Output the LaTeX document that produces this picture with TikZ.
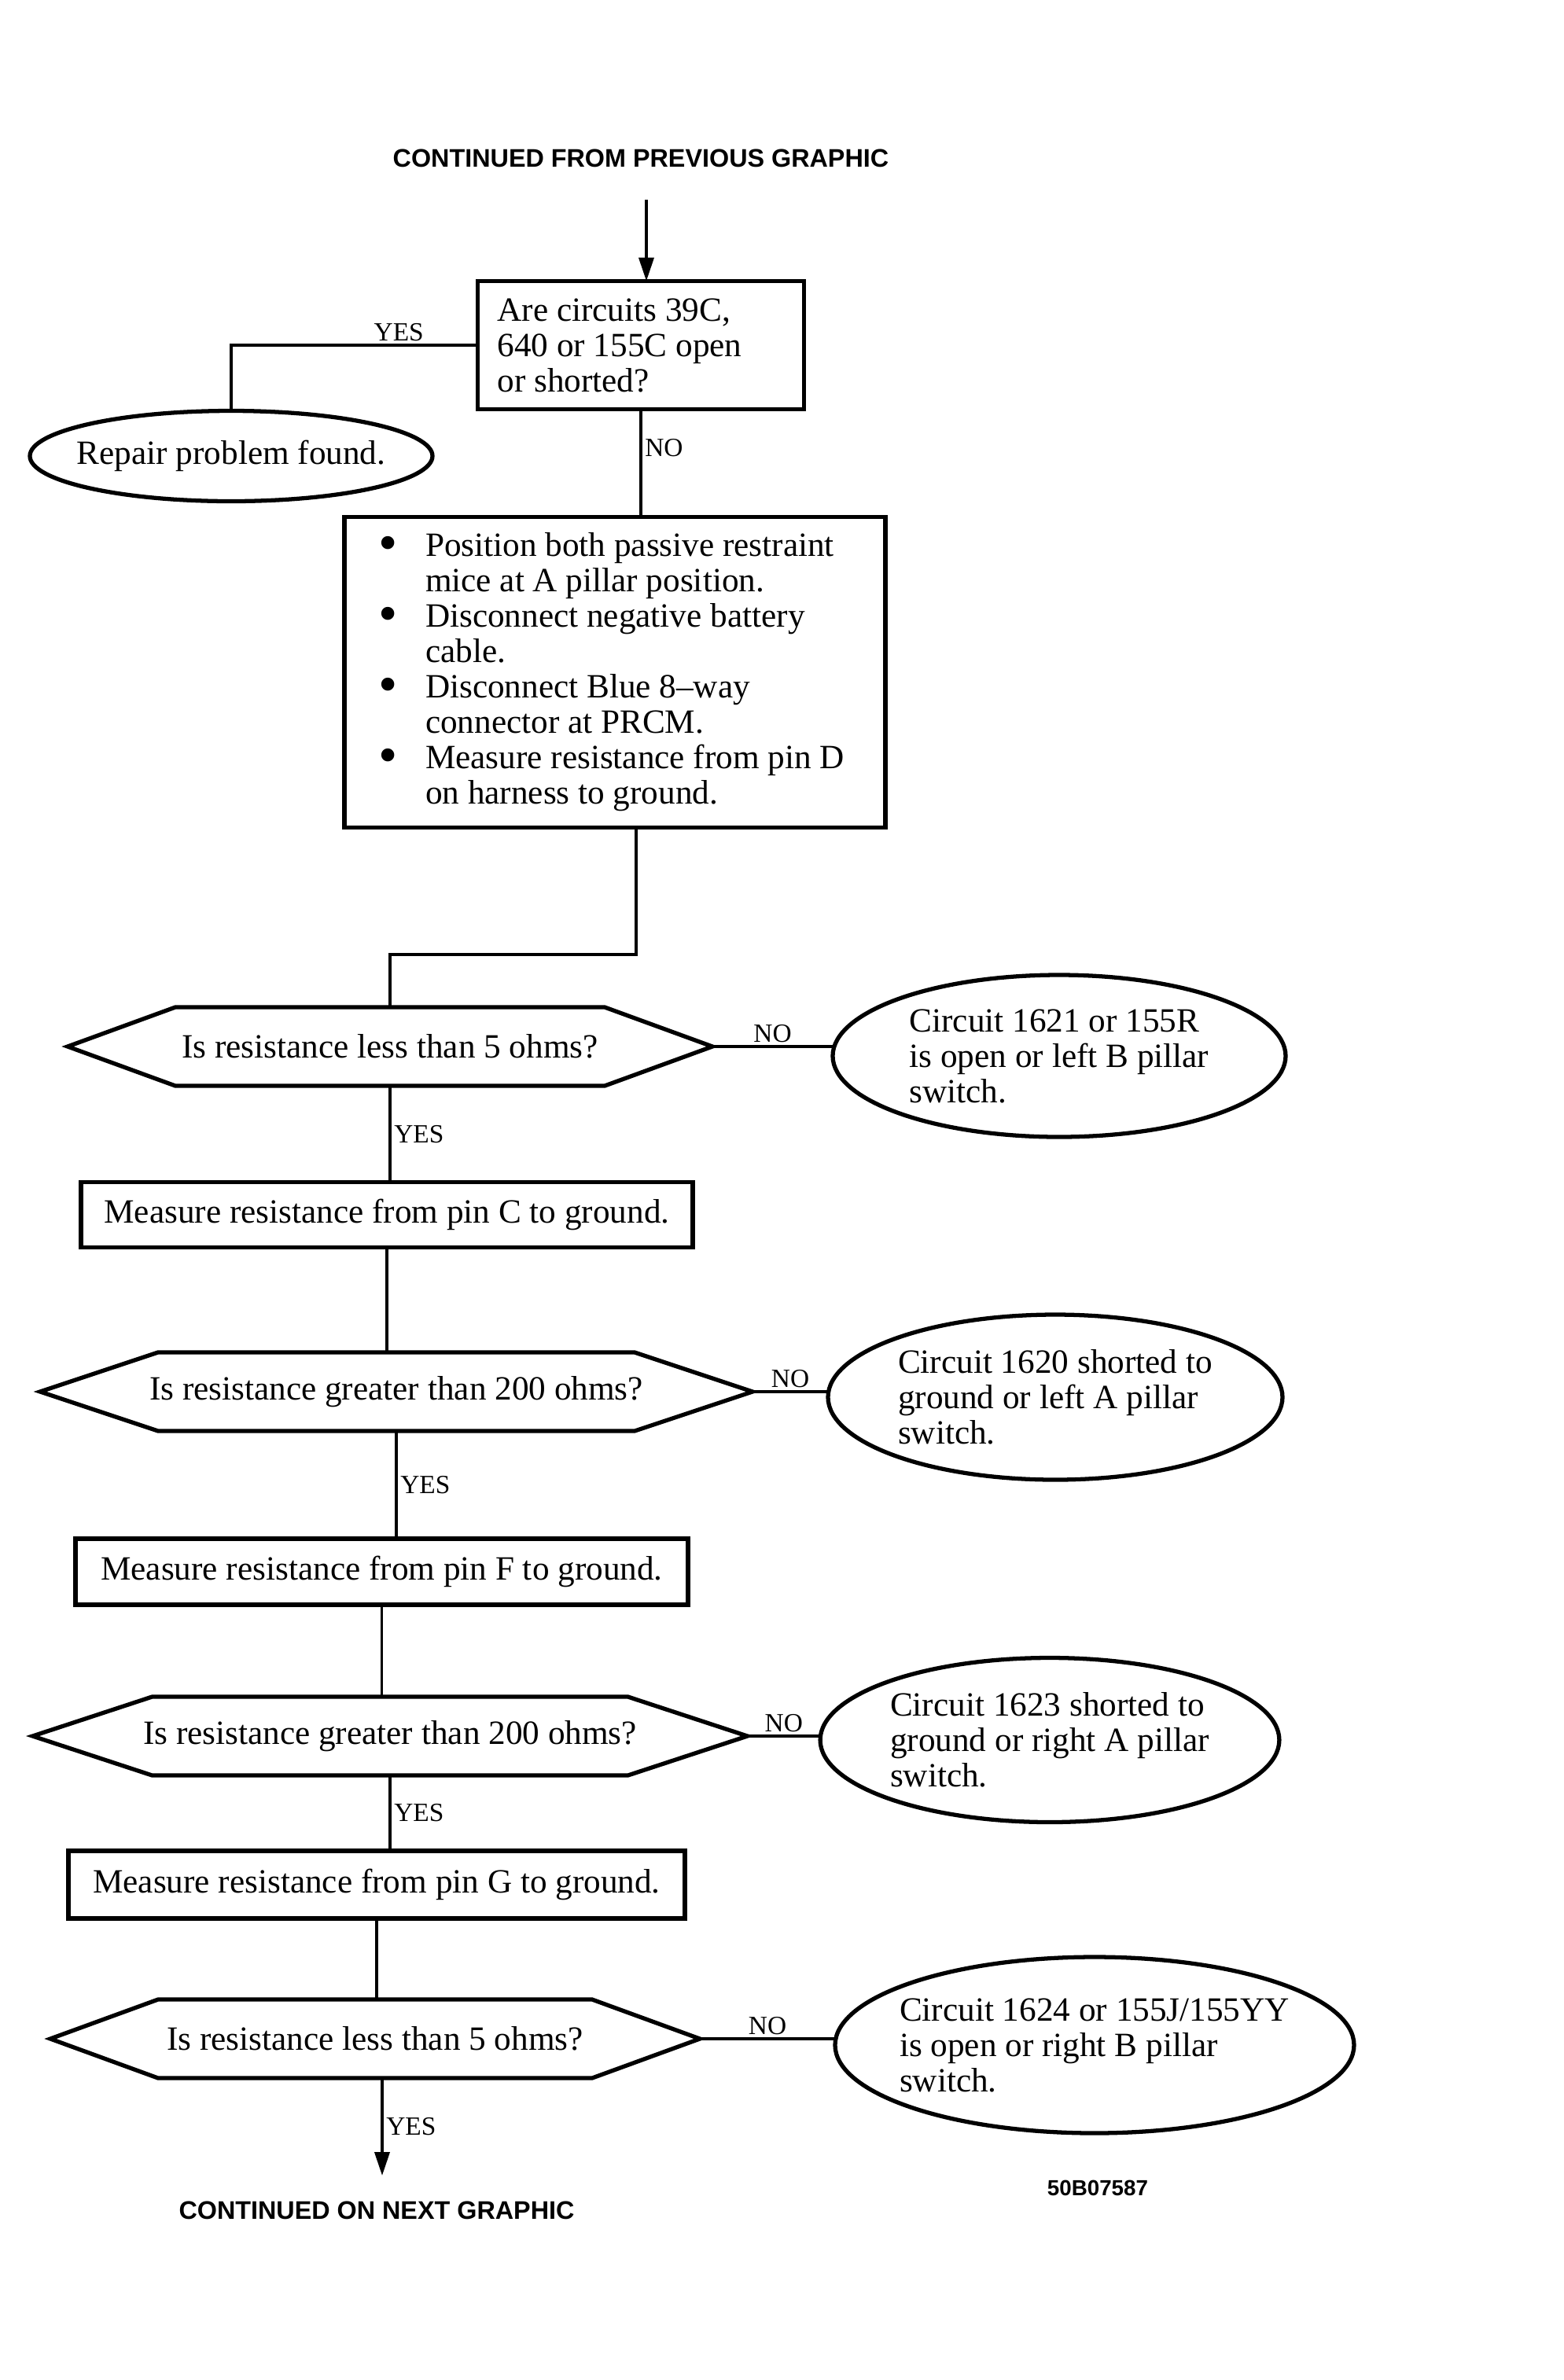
\documentclass[tikz,border=0pt]{standalone}
\usepackage{fontspec}
\setmainfont{Liberation Serif}
\newfontfamily\headsans{Liberation Sans}
\usepackage{graphicx}
\usetikzlibrary{arrows.meta, positioning, shapes.geometric}

% bullet items in the check list
\newcommand{\bigbul}{\raisebox{-0.14em}{\scalebox{1.6}{\textbullet}}}
\newcommand{\itm}{\makebox[0.71cm][l]{\hspace{0.11cm}\bigbul}}
\newcommand{\cnt}{\hspace*{0.71cm}}
% six-sided frame round a decision node
\newcommand{\hexframe}[2]{%
    \draw[shapeline] (#1.west) -- ([xshift=#2cm]#1.north west) -- ([xshift=-#2cm]#1.north east)
        -- (#1.east) -- ([xshift=-#2cm]#1.south east) -- ([xshift=#2cm]#1.south west) -- cycle;}

\begin{document}
\begin{tikzpicture}[%
        every node/.style={font=\fontsize{12.3}{12.8}\selectfont, outer sep=0pt},
        shapeline/.style={line width=1.5pt, line join=miter},
        linkline/.style={line width=1.1pt},
        action/.style={rectangle, draw, shapeline},
        decision/.style={rectangle, minimum height=1cm, inner sep=0pt},
        outcome/.style={ellipse, draw, shapeline, align=left, inner sep=1pt},
        answer/.style={font=\fontsize{9.5}{11}\selectfont, inner sep=1.5pt},
        caption/.style={font=\headsans\bfseries\fontsize{9.2}{11}\selectfont},
        flow/.style={linkline, -{Triangle[length=3mm,width=1.9mm]}}
    ]
    \fill[white] (0,0) rectangle (19.89,-30.27);
    \useasboundingbox (0,0) rectangle (19.89,-30.27);

    % --- First question ---
    \node[caption] (from) at (8.15,-2.01) {CONTINUED FROM PREVIOUS GRAPHIC};
    \coordinate (in0) at (8.22,-2.54);
    \node[action, text width=3.65cm, inner xsep=0.25cm, minimum height=1.63cm, align=flush left] (q1) at (8.15,-4.39)
        {Are circuits 39C,\\ 640 or 155C open\\ or shorted?};
    \node[outcome, align=center, inner xsep=-0.17cm, minimum width=5.12cm, minimum height=1.15cm] (e0) at (2.94,-5.80)
        {Repair problem found.};

    \draw[flow] (in0) -- (in0 |- q1.north);
    \draw[linkline] (q1.west) -| node[answer, above, pos=0.16] {YES} (e0.north);

    % --- Check list ---
    \node[action, text width=6.24cm, inner xsep=0.32cm, minimum height=3.95cm, align=flush left] (steps) at (7.82,-8.55)
        {\itm Position both passive restraint\\ \cnt mice at A pillar position.\\
         \itm Disconnect negative battery\\ \cnt cable.\\
         \itm Disconnect Blue 8--way\\ \cnt connector at PRCM.\\
         \itm Measure resistance from pin D\\ \cnt on harness to ground.};
    \coordinate (j1) at (8.09,-12.14);

    \draw[linkline] (q1.south) -- node[answer, right, pos=0.36] {NO} (q1.south |- steps.north);

    % --- Pin D ---
    \node[decision, minimum width=8.20cm] (d1) at (4.96,-13.31) {Is resistance less than 5 ohms?};
    \hexframe{d1}{1.37}
    \node[outcome, minimum width=5.76cm, minimum height=2.06cm] (e1) at (13.47,-13.43)
        {Circuit 1621 or 155R\\ is open or left B pillar\\ switch.};
    \node[action, minimum width=7.78cm, minimum height=0.83cm] (m1) at (4.92,-15.45) {Measure resistance from pin C to ground.};

    \draw[linkline] (j1 |- steps.south) -- (j1) -| (d1.north);
    \draw[linkline] (d1.east) -- node[answer, above] {NO} (d1.east -| e1.west);
    \draw[linkline] (d1.south) -- node[answer, right] {YES} (d1.south |- m1.north);

    % --- Pin C ---
    \node[decision, minimum width=9.06cm] (d2) at (5.04,-17.70) {Is resistance greater than 200 ohms?};
    \hexframe{d2}{1.50}
    \node[outcome, minimum width=5.78cm, minimum height=2.10cm] (e2) at (13.42,-17.77)
        {Circuit 1620 shorted to\\ ground or left A pillar\\ switch.};
    \node[action, minimum width=7.79cm, minimum height=0.84cm] (m2) at (4.855,-19.99) {Measure resistance from pin F to ground.};

    \draw[linkline] (m1.south) -- (m1.south |- d2.north);
    \draw[linkline] (d2.east) -- node[answer, above] {NO} (d2.east -| e2.west);
    \draw[linkline] (d2.south) -- node[answer, right] {YES} (d2.south |- m2.north);

    % --- Pin F ---
    \node[decision, minimum width=9.09cm] (d3) at (4.96,-22.08) {Is resistance greater than 200 ohms?};
    \hexframe{d3}{1.52}
    \node[outcome, minimum width=5.74cm, minimum height=2.09cm] (e3) at (13.35,-22.13)
        {Circuit 1623 shorted to\\ ground or right A pillar\\ switch.};
    \node[action, minimum width=7.84cm, minimum height=0.86cm] (m3) at (4.79,-23.97) {Measure resistance from pin G to ground.};

    \draw[linkline] (m2.south) -- (m2.south |- d3.north);
    \draw[linkline] (d3.east) -- node[answer, above] {NO} (d3.east -| e3.west);
    \draw[linkline] (d3.south) -- node[answer, right] {YES} (d3.south |- m3.north);

    % --- Pin G ---
    \node[decision, minimum width=8.26cm] (d4) at (4.77,-25.93) {Is resistance less than 5 ohms?};
    \hexframe{d4}{1.37}
    \node[outcome, inner xsep=-0.15cm, minimum width=6.60cm, minimum height=2.24cm] (e4) at (13.92,-26.01)
        {Circuit 1624 or 155J/155YY\\ is open or right B pillar\\ switch.};
    \coordinate (out0) at (4.86,-27.67);
    \node[caption] (next) at (4.79,-28.11) {CONTINUED ON NEXT GRAPHIC};
    \node[caption, font=\headsans\bfseries\fontsize{7.9}{9}\selectfont] (code) at (13.96,-27.83) {50B07587};

    \draw[linkline] (m3.south) -- (m3.south |- d4.north);
    \draw[linkline] (d4.east) -- node[answer, above] {NO} (d4.east -| e4.west);
    \draw[flow] (out0 |- d4.south) -- node[answer, right] {YES} (out0);
\end{tikzpicture}
\end{document}
